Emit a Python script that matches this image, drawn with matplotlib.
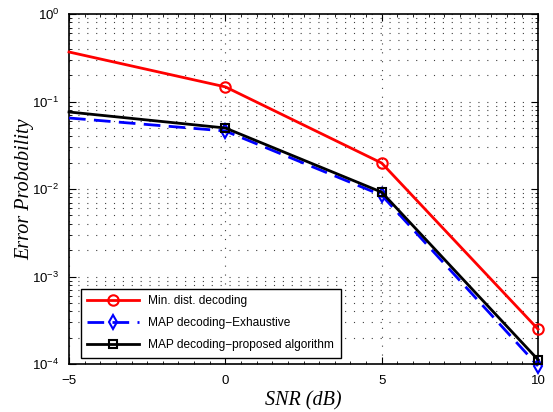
import numpy as np
import matplotlib.pyplot as plt
from matplotlib.ticker import LogLocator, MultipleLocator, NullFormatter

# SNR points and error probabilities
snr = [-5, 0, 5, 10]
min_dist = [0.368, 0.147, 0.0198, 2.5e-4]
map_exhaustive = [0.0648, 0.046, 0.0085, 0.95e-4]
map_proposed = [0.0759, 0.0498, 0.0092, 1.12e-4]

plt.rcParams['font.family'] = 'Liberation Sans'
plt.rcParams['mathtext.fontset'] = 'custom'
plt.rcParams['mathtext.rm'] = 'Liberation Sans'
plt.rcParams['mathtext.it'] = 'Liberation Sans:italic'

fig = plt.figure(figsize=(5.53, 4.12), dpi=100)
ax = fig.add_axes([0.1248, 0.1165, 0.8481, 0.8495])

ax.plot(snr, min_dist, color='red', lw=2, marker='o', ms=7.5, mfc='none', mew=1.5,
        markevery=[1, 2, 3], clip_on=False, label='Min. dist. decoding', zorder=4)
ax.plot(snr, map_exhaustive, color='blue', lw=2, ls=(0, (6, 3)), marker='d', ms=7,
        mfc='none', mew=1.5, markevery=[1, 2, 3], clip_on=False,
        label='MAP decoding\u2212Exhaustive', zorder=3)
ax.plot(snr, map_proposed, color='black', lw=2, marker='s', ms=6, mfc='none', mew=1.5,
        markevery=[1, 2, 3], clip_on=False,
        label='MAP decoding\u2212proposed algorithm', zorder=5)

ax.set_yscale('log')
ax.set_xlim(-5, 10)
ax.set_ylim(1e-4, 1)
ax.set_xticks([-5, 0, 5, 10])
ax.set_xticklabels(['\u22125', '0', '5', '10'])
ax.xaxis.set_minor_locator(MultipleLocator(0.5))
ax.yaxis.set_major_locator(LogLocator(base=10, numticks=10))
ax.yaxis.set_minor_locator(LogLocator(base=10, subs=np.arange(2, 10), numticks=20))
ax.yaxis.set_minor_formatter(NullFormatter())

ax.tick_params(which='both', direction='in', top=True, right=True, labelsize=9.5)
ax.tick_params(which='major', length=5, width=0.8)
ax.tick_params(which='minor', length=2.5, width=0.6)
ax.tick_params(axis='x', which='minor', length=2)
ax.tick_params(axis='x', which='major', pad=8)
ax.tick_params(axis='y', which='major', pad=7)

ax.grid(True, which='major', color='0.25', ls=(0, (1, 7)), lw=0.8)
ax.grid(True, which='minor', axis='y', color='0.25', ls=(0, (1, 7)), lw=0.8)
for s in ax.spines.values():
    s.set_linewidth(1.2)

ax.set_xlabel('SNR (dB)', family='Liberation Serif', style='italic', fontsize=14.5, labelpad=3)
ax.set_ylabel('Error Probability', family='Liberation Serif', style='italic', fontsize=14.5)
ax.yaxis.set_label_coords(-0.074, 0.5)

leg = ax.legend(loc='lower left', bbox_to_anchor=(0.012, 0.0), fontsize=8.6, fancybox=False,
                edgecolor='black', framealpha=1, handlelength=4.3, borderpad=0.55,
                labelspacing=0.85)
leg.get_frame().set_linewidth(1.0)

fig.savefig('out.png', dpi=100)
